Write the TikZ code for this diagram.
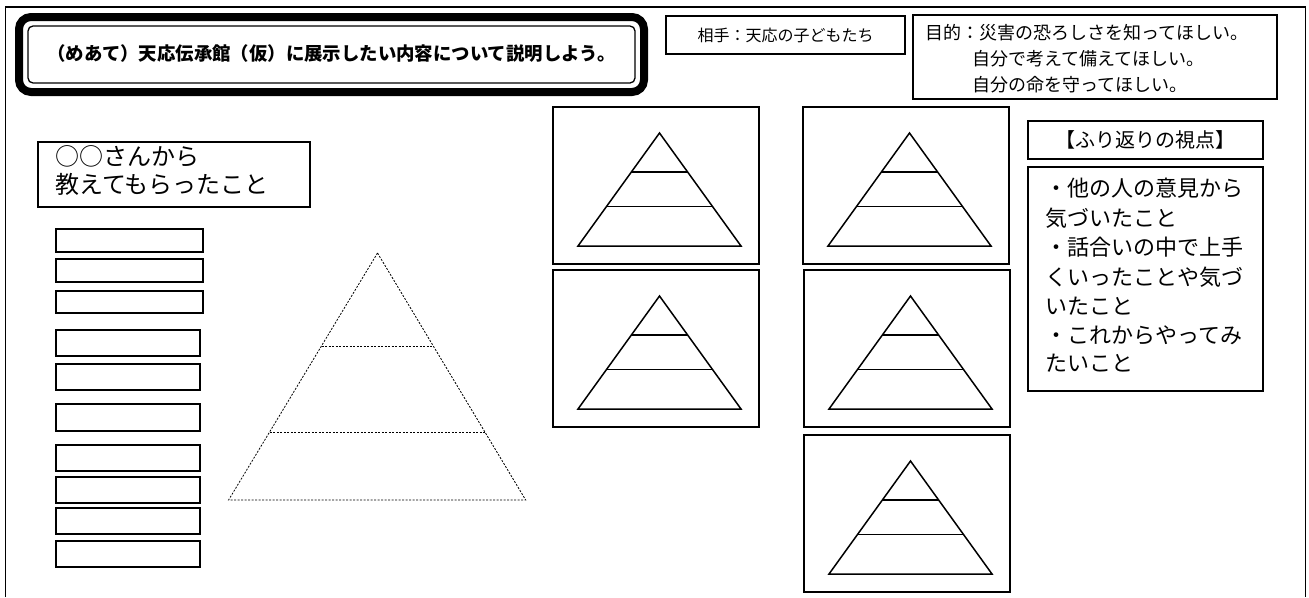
\documentclass[tikz,border=0pt]{standalone}
\usepackage{fontspec}
\newfontfamily\jp{Noto Sans CJK JP}
\begin{document}
\begin{tikzpicture}[x=1pt,y=-1pt,
  box/.style={draw, line width=1.4pt, inner sep=0pt, outer sep=0pt, anchor=north west},
  slot/.style={draw, line width=2pt, inner sep=0pt, outer sep=0pt, anchor=north west, minimum height=23pt},
  pbox/.style={draw, line width=1.5pt, inner sep=0pt, outer sep=0pt, anchor=north west, minimum width=206pt, minimum height=157pt},
  txt/.style={inner sep=0pt, anchor=west},
  dotline/.style={line width=0.8pt, dash pattern=on 2pt off 1.5pt},
  pyr/.pic={
    \draw[line width=1.5pt, line join=miter] (0,0) -- (-81.5,113) -- (81.5,113) -- cycle;
    \draw[line width=1.5pt] (-28.1,39) -- (28.1,39);
    \draw[line width=1.5pt] (-53,73.5) -- (53,73.5);
  }]
\useasboundingbox (0,0) rectangle (1309,597);
\fill[white] (0,0) rectangle (1309,597);
% outer frame
\draw[line width=1.5pt] (5.5,597) -- (5.5,7) -- (1305.5,7) -- (1305.5,597);
% title
\draw[line width=8pt, rounded corners=12pt] (19,17) rectangle (644,92);
\draw[line width=1.3pt, rounded corners=5pt] (28,26) rectangle (635,83);
\node[font=\jp\bfseries\fontsize{18.4}{22}\selectfont, inner sep=0pt] (title) at (331.5,54) {（めあて）天応伝承館（仮）に展示したい内容について説明しよう。};
% aite
\node[box, minimum width=239pt, minimum height=38pt] (aite) at (666,16) {};
\node[font=\jp\fontsize{16}{19}\selectfont, inner sep=0pt] (aitet) at (aite.center) {相手：天応の子どもたち};
% mokuteki
\node[box, minimum width=364pt, minimum height=84pt] (moku) at (913,15) {};
\node[txt, font=\jp\fontsize{18}{21}\selectfont] (m1) at (925,33) {目的：災害の恐ろしさを知ってほしい。};
\node[txt, font=\jp\fontsize{18}{21}\selectfont] (m2) at (972,59) {自分で考えて備えてほしい。};
\node[txt, font=\jp\fontsize{18}{21}\selectfont] (m3) at (972,85) {自分の命を守ってほしい。};
% oo-san box
\node[box, minimum width=272pt, minimum height=65pt] (oo) at (38,142) {};
\node[txt, font=\jp\fontsize{24}{28}\selectfont] (oo1) at (55,156) {○○さんから};
\node[txt, font=\jp\fontsize{24}{28}\selectfont] (oo2) at (55,184) {教えてもらったこと};
% slots
\node[slot, minimum width=147pt] (s1) at (56,229) {};
\node[slot, minimum width=147pt] (s2) at (56,259) {};
\node[slot, minimum width=147pt, minimum height=22pt] (s3) at (56,291) {};
\node[slot, minimum width=144pt, minimum height=26pt] (s4) at (56,330) {};
\node[slot, minimum width=144pt, minimum height=26pt] (s5) at (56,364) {};
\node[slot, minimum width=144pt, minimum height=27pt] (s6) at (56,404) {};
\node[slot, minimum width=144pt, minimum height=26pt] (s7) at (56,445) {};
\node[slot, minimum width=144pt, minimum height=26pt] (s8) at (56,477) {};
\node[slot, minimum width=144pt, minimum height=26pt] (s9) at (56,508) {};
\node[slot, minimum width=144pt, minimum height=26pt] (s10) at (56,541) {};
% big dotted pyramid
\draw[dotline] (377.5,253) -- (228.6,500) -- (525.7,500) -- cycle;
\draw[dotline] (321.6,346) -- (433.4,346);
\draw[dotline] (269.9,432) -- (485.1,432);
% small pyramids
\node[pbox] (p1) at (553,107) {};
\node[pbox] (p2) at (553,270) {};
\node[pbox] (p3) at (803,107) {};
\node[pbox] (p4) at (804,270) {};
\node[pbox] (p5) at (804,435) {};
\pic at (659.5,133) {pyr};
\pic at (659.5,296) {pyr};
\pic at (909.5,133) {pyr};
\pic at (910.5,296) {pyr};
\pic at (910.5,461) {pyr};
% furikaeri
\node[box, minimum width=235pt, minimum height=38pt] (fh) at (1028,121) {};
\node[font=\jp\fontsize{20}{24}\selectfont, inner sep=0pt] (fht) at (fh.center) {【ふり返りの視点】};
\node[box, minimum width=235pt, minimum height=224pt] (fb) at (1028,167) {};
\node[txt, font=\jp\fontsize{22}{26}\selectfont] (f1) at (1045,188) {・他の人の意見から};
\node[txt, font=\jp\fontsize{22}{26}\selectfont] (f2) at (1045,218) {気づいたこと};
\node[txt, font=\jp\fontsize{22}{26}\selectfont] (f3) at (1045,247) {・話合いの中で上手};
\node[txt, font=\jp\fontsize{22}{26}\selectfont] (f4) at (1045,277) {くいったことや気づ};
\node[txt, font=\jp\fontsize{22}{26}\selectfont] (f5) at (1045,306) {いたこと};
\node[txt, font=\jp\fontsize{22}{26}\selectfont] (f6) at (1045,335) {・これからやってみ};
\node[txt, font=\jp\fontsize{22}{26}\selectfont] (f7) at (1045,363) {たいこと};
\end{tikzpicture}
\end{document}
